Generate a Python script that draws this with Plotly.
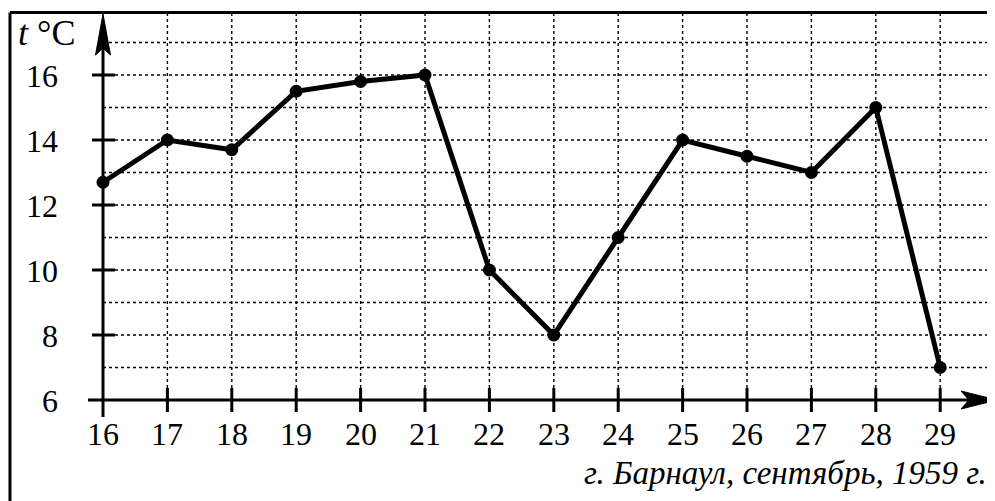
import plotly.graph_objects as go

# ---- data ----
days = [16, 17, 18, 19, 20, 21, 22, 23, 24, 25, 26, 27, 28, 29]
temps = [12.7, 14, 13.7, 15.5, 15.8, 16, 10, 8, 11, 14, 13.5, 13, 15, 7]
x_tick_vals = list(range(16, 30))
x_tick_labels = [str(v) for v in x_tick_vals]
y_tick_vals = [6, 8, 10, 12, 14, 16]
y_tick_labels = [str(v) for v in y_tick_vals]
x_grid = list(range(17, 30))
y_grid = list(range(7, 18))
caption = "г. Барнаул, сентябрь, 1959 г."
y_title = "<i>t</i> °C"

# ---- geometry (page pixels; page body has an 8px margin) ----
OFF = 8
WIN_W, WIN_H = 995, 501
W, H = WIN_W - OFF, WIN_H - OFF
PX0, PXU = 103.0, 64.4   # page pixel of x=16, pixels per day
PY0, PYU = 400.0, 32.5   # page pixel of y=6, pixels per degree
X_ORIG, Y_ORIG = 16, 6

def dx(px):
    return X_ORIG + (px - PX0) / PXU

def dy(py):
    return Y_ORIG + (PY0 - py) / PYU

xr = [dx(OFF), dx(WIN_W)]
yr = [dy(WIN_H), dy(OFF)]
FRAME_TOP_PX = 12.5
FRAME_LEFT_PX = 8.5

FONT = "Liberation Serif, Times New Roman, serif"
shapes = []
annotations = []

# frame (left + top)
fl = (FRAME_LEFT_PX - OFF) / W + 0.0015
ft = 1 - (FRAME_TOP_PX - OFF) / H
shapes.append(dict(type="line", xref="paper", yref="paper",
                   x0=fl, x1=fl, y0=0, y1=ft, line=dict(color="black", width=3)))
shapes.append(dict(type="line", xref="paper", yref="paper",
                   x0=fl, x1=1, y0=ft, y1=ft, line=dict(color="black", width=3)))

grid_line = dict(color="#000", width=1.4, dash="dot")
for gx in x_grid:
    shapes.append(dict(type="line", xref="x", yref="y", x0=gx, x1=gx,
                       y0=Y_ORIG, y1=dy(FRAME_TOP_PX), line=grid_line, layer="below"))
for gy in y_grid:
    shapes.append(dict(type="line", xref="x", yref="y", x0=X_ORIG, x1=xr[1],
                       y0=gy, y1=gy, line=grid_line, layer="below"))

axis_line = dict(color="black", width=3)
# axes
shapes.append(dict(type="line", xref="x", yref="y", x0=dx(88), x1=dx(975),
                   y0=Y_ORIG, y1=Y_ORIG, line=axis_line))
shapes.append(dict(type="line", xref="x", yref="y", x0=X_ORIG, x1=X_ORIG,
                   y0=dy(417), y1=dy(30), line=axis_line))
# arrow heads
shapes.append(dict(type="path", xref="x", yref="y", xsizemode="pixel", ysizemode="pixel",
                   xanchor=dx(997), yanchor=Y_ORIG,
                   path="M0,0 L-36,9 L-28,0 L-36,-9 Z",
                   fillcolor="black", line=dict(color="black", width=1)))
shapes.append(dict(type="path", xref="x", yref="y", xsizemode="pixel", ysizemode="pixel",
                   xanchor=X_ORIG, yanchor=dy(14),
                   path="M0,0 L-7.5,-41 L0,-34 L7.5,-41 Z",
                   fillcolor="black", line=dict(color="black", width=1)))

# ticks crossing the axes
for tx in x_tick_vals[1:]:
    shapes.append(dict(type="line", xref="x", yref="y", x0=tx, x1=tx,
                       y0=Y_ORIG - 12 / PYU, y1=Y_ORIG + 12 / PYU, line=axis_line))
for ty in y_tick_vals[1:]:
    shapes.append(dict(type="line", xref="x", yref="y", x0=X_ORIG - 11 / PXU, x1=X_ORIG + 12 / PXU,
                       y0=ty, y1=ty, line=axis_line))

# tick labels
for tx, lab in zip(x_tick_vals, x_tick_labels):
    annotations.append(dict(x=tx, y=Y_ORIG, xref="x", yref="y", text=lab, showarrow=False,
                            xanchor="center", yanchor="middle", yshift=-34,
                            font=dict(family=FONT, size=32, color="black")))
for ty, lab in zip(y_tick_vals, y_tick_labels):
    annotations.append(dict(x=X_ORIG, y=ty, xref="x", yref="y", text=lab, showarrow=False,
                            xanchor="right", yanchor="middle", xshift=-43, yshift=-1,
                            font=dict(family=FONT, size=32, color="black")))

# axis title and caption
annotations.append(dict(x=dx(16), y=dy(33), xref="x", yref="y", text=y_title, showarrow=False,
                        xanchor="left", yanchor="middle",
                        font=dict(family=FONT, size=36, color="black")))
annotations.append(dict(x=1, y=dy(473), xref="paper", yref="y", text="<i>" + caption + "</i>",
                        showarrow=False, xanchor="right", yanchor="middle", xshift=-6,
                        font=dict(family=FONT, size=33, color="black")))

fig = go.Figure()
fig.add_trace(go.Scatter(x=days, y=temps, mode="lines+markers",
                         line=dict(color="black", width=5),
                         marker=dict(color="black", size=13),
                         cliponaxis=False, hoverinfo="x+y"))

fig.update_layout(
    width=W, height=H,
    margin=dict(l=0, r=0, t=0, b=0),
    paper_bgcolor="white", plot_bgcolor="white",
    showlegend=False,
    xaxis=dict(range=xr, visible=False, fixedrange=True),
    yaxis=dict(range=yr, visible=False, fixedrange=True),
    shapes=shapes,
    annotations=annotations,
)

fig.write_html("out.html")
